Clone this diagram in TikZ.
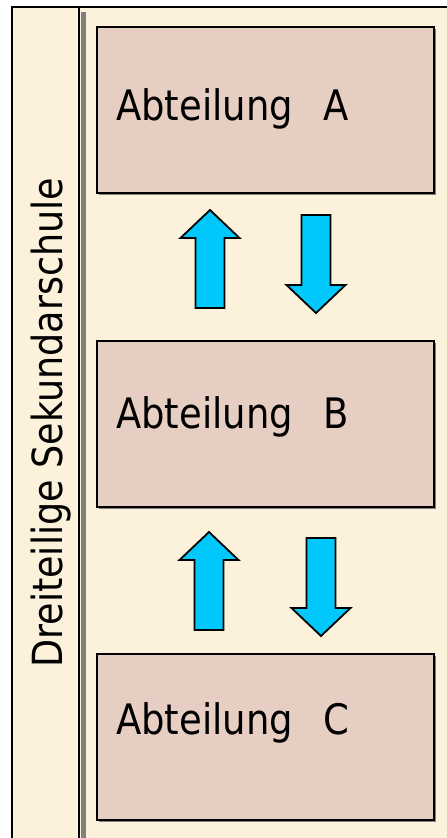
\documentclass[tikz,border=0pt]{standalone}
\usepackage{fontspec}
\usetikzlibrary{shadows}
\newfontfamily\schrift[FakeStretch=0.88]{DejaVu Sans}
\definecolor{papier}{HTML}{FCF1DA}
\definecolor{rosa}{HTML}{E6CEC3}
\definecolor{himmel}{HTML}{00C8FA}
\definecolor{leiste}{HTML}{808080}
\tikzset{
	abteilung/.style={
			draw=black, line width=2pt, fill=rosa, inner sep=0pt,
			anchor=north west, minimum width=337pt, minimum height=166pt,
			drop shadow={shadow xshift=2pt, shadow yshift=-2pt, fill=leiste, opacity=1}
		},
	beschriftung/.style={anchor=base west, inner sep=0pt, font=\schrift\fontsize{42}{50}\selectfont},
	pfeil/.style={draw=black, line width=1.8pt, fill=himmel, line join=miter}
}

\begin{document}
\begin{tikzpicture}[x=1pt, y=-1pt]
			\useasboundingbox (0,0) rectangle (447,838);

			% Paper and frame
			\fill[papier] (12,7) rectangle (447,838);
			\fill[leiste] (81,12) rectangle (86,838);
			\draw[line width=2pt] (447,7) -- (12,7) -- (12,838);
			\draw[line width=2pt] (79,7) -- (79,838);

			% Side title
			\node[beschriftung, font=\schrift\fontsize{41.5}{50}\selectfont, rotate=90] (titel) at (62,668) {Dreiteilige Sekundarschule};

			% The three parts
			\node[abteilung] (abtA) at (96,26) {};
			\node[abteilung] (abtB) at (96,340) {};
			\node[abteilung] (abtC) at (96,653) {};

			\node[beschriftung] (textA) at (116,120) {Abteilung\ \ \,A};
			\node[beschriftung] (textB) at (116,428) {Abteilung\ \ \,B};
			\node[beschriftung] (textC) at (116,734) {Abteilung\ \ \,C};

			% Block arrows: tip x / tip y / direction (1 up, -1 down)
			\foreach \px/\ty/\s in {210/210/1, 316/313/-1, 209/532/1, 321/636/-1}{
					\draw[pfeil] (\px,\ty) -- ({\px+29.5},{\ty+28*\s}) -- ({\px+14.5},{\ty+28*\s})
					-- ({\px+14.5},{\ty+98*\s}) -- ({\px-14.5},{\ty+98*\s})
					-- ({\px-14.5},{\ty+28*\s}) -- ({\px-29.5},{\ty+28*\s}) -- cycle;
				}
		\end{tikzpicture}
\end{document}
